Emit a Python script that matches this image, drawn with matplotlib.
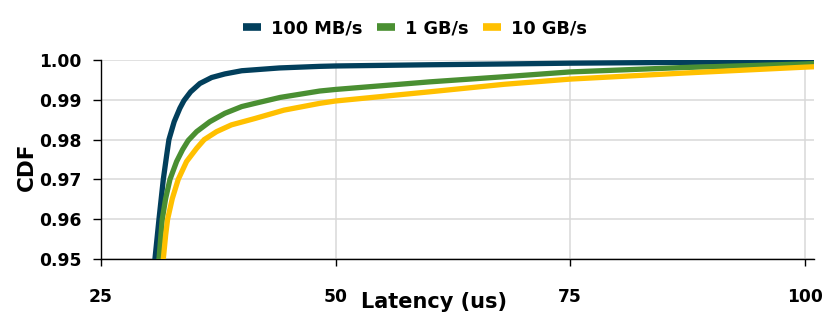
import matplotlib as mpl
import matplotlib.pyplot as plt
import numpy as np

# Data (latency in us, CDF)
lat_100mb = [30.75, 31.18, 31.64, 32.0, 32.24, 32.8, 33.41, 33.84, 34.55, 35.54, 36.79,
             38.2, 40.0, 44.0, 48.3, 50, 60, 68, 75, 87, 100, 101]
cdf_100mb = [0.950, 0.960, 0.970, 0.9761, 0.980, 0.9845, 0.9879, 0.9898, 0.9920, 0.9941,
             0.9956, 0.9965, 0.9973, 0.9980, 0.9984, 0.9985, 0.9988, 0.9990, 0.9992,
             0.9994, 0.9996, 0.9996]

lat_1gb = [31.18, 31.53, 31.89, 32.35, 33.06, 33.7, 34.3, 35.19, 36.6, 38.2, 40.0, 41.4,
           44.1, 48.3, 50, 60, 68, 75, 87, 100, 101]
cdf_1gb = [0.950, 0.960, 0.9652, 0.970, 0.9745, 0.9775, 0.9798, 0.9820, 0.9845, 0.9866,
           0.9883, 0.9891, 0.9906, 0.9922, 0.9926, 0.9945, 0.9958, 0.9970, 0.9981,
           0.9990, 0.9991]

lat_10gb = [31.64, 31.89, 32.1, 32.6, 33.23, 34.12, 35.19, 36.0, 37.32, 38.9, 41.4,
            44.5, 48.3, 50, 60, 68, 75, 87, 100, 101]
cdf_10gb = [0.950, 0.956, 0.960, 0.9652, 0.970, 0.9745, 0.9778, 0.980, 0.982, 0.9837,
            0.9853, 0.9874, 0.9891, 0.9897, 0.9920, 0.9939, 0.9952, 0.9967, 0.9982, 0.9983]

labels = ['100 MB/s', '1 GB/s', '10 GB/s']
colors = ['#023F5C', '#4A8F32', '#FFC000']
x_ticks = [25, 50, 75, 100]
y_ticks = [0.95, 0.96, 0.97, 0.98, 0.99, 1.00]

plt.rcParams['font.family'] = ['DejaVu Sans']
plt.rcParams['font.weight'] = 'bold'

fig = plt.figure(figsize=(8.3, 3.21), dpi=100)
left, bottom, width, height = [0.1217, 0.1931, 0.8590, 0.6200]
ax = fig.add_axes([left, bottom, width, height])

thicc = 3.8
for lat, cdf, lab, c in zip([lat_100mb, lat_1gb, lat_10gb],
                            [cdf_100mb, cdf_1gb, cdf_10gb], labels, colors):
    ax.plot(lat, cdf, '-', color=c, linewidth=thicc, label=lab,
            solid_joinstyle='round', zorder=3)

ax.set_xlim(25, 101)
ax.set_ylim(0.95, 1.0)
ax.set_xticks(x_ticks)
ax.set_yticks(y_ticks)
ax.set_yticklabels(['%.2f' % v for v in y_ticks])

# grid & spines
ax.grid(True, color='#d9d9d9', linewidth=1.1, zorder=0)
ax.set_axisbelow(True)
ax.spines['top'].set_visible(False)
ax.spines['right'].set_visible(False)
ax.spines['left'].set_linewidth(1.0)
ax.spines['bottom'].set_linewidth(1.0)

ax.xaxis.set_tick_params(which='major', size=5, width=1, direction='out', labelsize=12.3, pad=16)
ax.yaxis.set_tick_params(which='major', size=6, width=1, direction='out', labelsize=12.3, pad=8)
for t in ax.get_xticklabels() + ax.get_yticklabels():
    t.set_fontweight('bold')

ax.set_xlabel('Latency (us)', fontsize=15, fontweight='bold')
ax.xaxis.set_label_coords(0.467, -0.166)
ax.set_ylabel('CDF', fontsize=15.5, fontweight='bold')
ax.yaxis.set_label_coords(-0.09, 0.462)

leg = fig.legend(loc='upper center', bbox_to_anchor=(0.5, 0.99), ncol=3, frameon=False,
                 fontsize=12.8, handlelength=1.0, handletextpad=0.56, columnspacing=0.84)
for h in leg.get_lines():
    h.set_linewidth(5.5)
    h.set_solid_capstyle('butt')
for t in leg.get_texts():
    t.set_fontweight('bold')

plt.savefig('out.png', dpi=100)
